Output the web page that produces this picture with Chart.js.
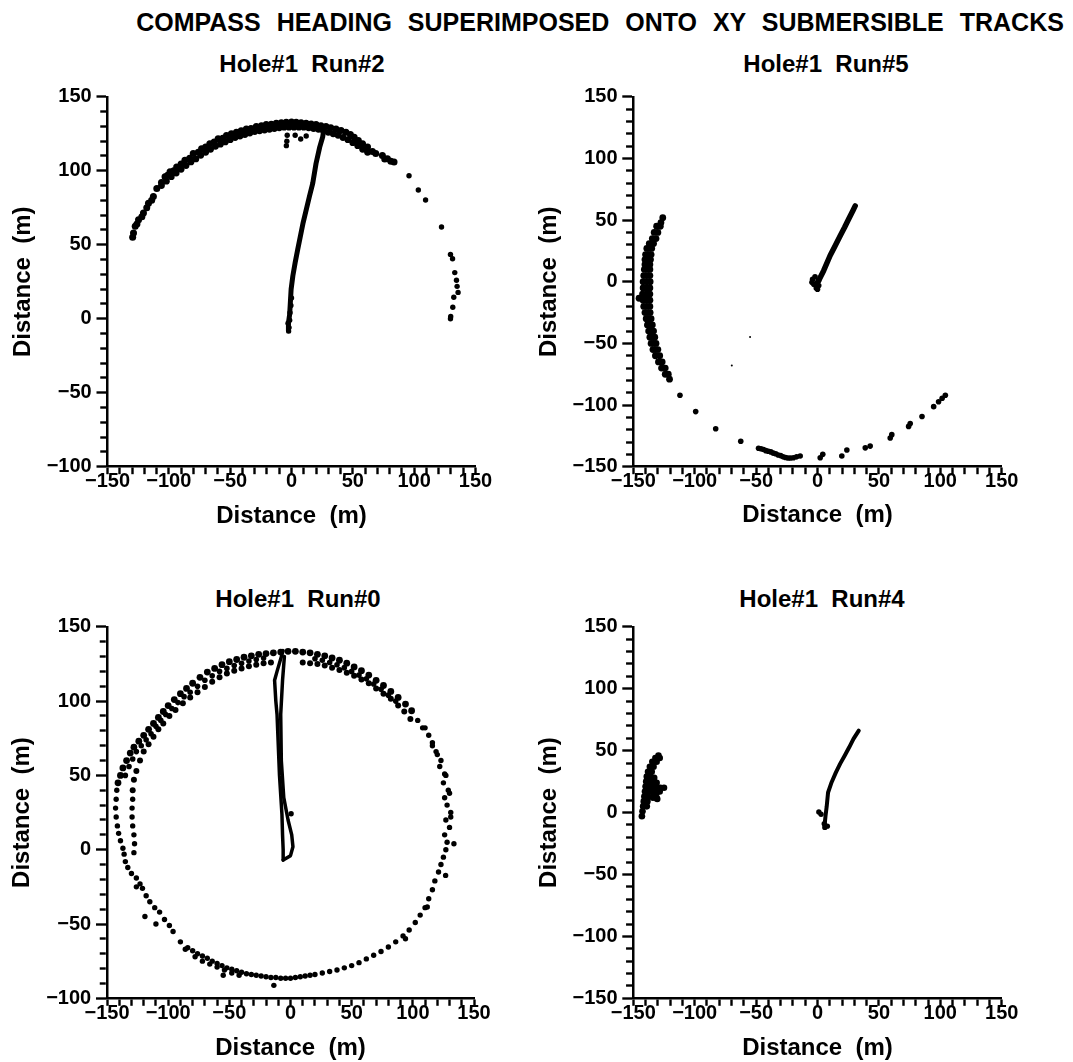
<!DOCTYPE html>
<html>
<head>
<meta charset="utf-8">
<script src="https://cdn.jsdelivr.net/npm/chart.js@4.4.1/dist/chart.umd.min.js"></script>
<style>
  html, body { margin: 0; padding: 0; background: #fff; overflow: hidden; }
  body { width: 1073px; height: 1062px; position: relative; font-family: 'Liberation Sans', Arial, sans-serif; color: #000; }
  .title { position: absolute; top: 10px; left: 600px; transform: translateX(-50%); font-size: 25px; font-weight: bold; line-height: 25px; word-spacing: 9px; white-space: nowrap; }
  .sub { position: absolute; font-size: 24px; font-weight: bold; line-height: 24px; white-space: pre; transform: translateX(-50%); }
  .panel { position: absolute; }
</style>
</head>
<body>
<div class="title">COMPASS HEADING SUPERIMPOSED ONTO XY SUBMERSIBLE TRACKS</div>
<div class="sub" style="left:302px;top:52px">Hole#1  Run#2</div>
<div class="sub" style="left:826px;top:52px">Hole#1  Run#5</div>
<div class="sub" style="left:298px;top:587px">Hole#1  Run#0</div>
<div class="sub" style="left:822px;top:587px">Hole#1  Run#4</div>

<div class="panel" style="left:0;top:80px;width:530px;height:470px"><canvas id="run2Chart"></canvas></div>
<div class="panel" style="left:520px;top:80px;width:553px;height:470px"><canvas id="run5Chart"></canvas></div>
<div class="panel" style="left:0;top:610px;width:530px;height:452px"><canvas id="run0Chart"></canvas></div>
<div class="panel" style="left:520px;top:610px;width:553px;height:452px"><canvas id="run4Chart"></canvas></div>

<script>
// axis ranges / ticks
const xRange = [-150, 150];
const yRangeLeft = [-100, 150];
const yRangeRight = [-150, 150];
const tickStep = 10;
const labelStep = 50;

// ---- Run#2 (top left) ----
const run2Arc = [
    [-129.5, 55], [-128.8, 58], [-127.4, 62.5], [-126, 64], [-124.7, 66.9], [-122, 69], [-120.7, 71.4],
    [-118, 75], [-116.6, 78.1], [-114, 80], [-112.6, 82.6], [-109.8, 88.1], [-106, 92], [-103.1, 95.9],
    [-101, 97], [-99, 99.3], [-96, 100], [-93.6, 102.6], [-90, 104.5], [-86.9, 107.1], [-83, 108.5],
    [-80.1, 111.6], [-76, 112.5], [-73.3, 114.9], [-70, 116], [-66.6, 118.3], [-63, 119.5], [-59.8, 121.6],
    [-56, 122], [-53, 123.8], [-49, 125], [-44.9, 126.1], [-41, 127], [-36.8, 128.3], [-33, 128.5],
    [-28.7, 129.9], [-24.5, 130.5], [-20.6, 131.2], [-16.5, 131.5], [-12.4, 132.1], [-8.3, 132.5],
    [-4.3, 132.8], [0, 133], [3.8, 132.8], [7.8, 132.5], [11.9, 132.1], [16, 131.7], [20, 131.2],
    [24, 130.5], [28.1, 129.9], [32, 129], [36.3, 128.3], [40.4, 127.2], [44.4, 126.1], [48, 124.5],
    [51.1, 122.7], [54.5, 120.5], [57.9, 118.3], [62, 116], [66, 113], [68.7, 111.6], [74.1, 110.4],
    [76, 108], [78.2, 108.2], [81, 106.5], [83.6, 106]
];
const run2ArcInner = [
    [-106, 90], [-102, 93], [-98, 96], [-94, 98.5], [-90, 101], [-86, 103.5], [-82, 106], [-78, 108],
    [-74, 110.5], [-70, 112.5], [-66, 114.5], [-62, 116.5], [-58, 118], [-54, 119.5], [-50, 121],
    [-46, 122.5], [-42, 123.5], [-38, 124.5], [-34, 125.5], [-30, 126.5], [-26, 127], [-22, 127.5],
    [-18, 128], [-14, 128.5], [-10, 129], [-6, 129.5], [-2, 129.5], [2, 129.5], [6, 129.5], [10, 129.5],
    [14, 129], [18, 128.5], [22, 128], [26, 127], [30, 126], [34, 125], [38, 124], [42, 122.5],
    [46, 121], [50, 119], [54, 117], [58, 114.5], [62, 112.5]
];
const run2Dots = [
    [-3.8, 120], [-3.5, 124], [-4.2, 117], [7.5, 121.5], [12, 123.5], [3, 124],
    [95.8, 96.6], [103.4, 87], [109.3, 80.3], [122.3, 62], [129.6, 43.5], [131.3, 40.5], [133.1, 31.2],
    [134.5, 26], [135, 21.9], [135.8, 17.8], [132.3, 14.5], [131.5, 7.8], [129.6, 0], [129.8, 1.5],
    [-2, -6], [-1.5, -1], [-1.2, 4], [-0.5, 9], [-2.8, -3], [0, 14]
];
const run2Track = [
    [-2.2, -8.5], [-2.5, -3], [-1.5, 3], [-1, 10], [-0.3, 20], [1.1, 29], [3, 38], [5.1, 46.9],
    [9.5, 65], [14.6, 82.6], [17.3, 91.5], [20, 104.9], [23, 116], [25.4, 122.8], [26, 126]
];

// ---- Run#5 (top right) ----
const run5Band = [
    [-126, 52], [-127.5, 48], [-131, 45], [-128, 45], [-133, 40], [-130, 40], [-134.5, 35], [-131.5, 35],
    [-137, 31], [-135, 31], [-133.5, 31], [-139, 27], [-137, 27], [-135, 27], [-140, 22], [-138, 22],
    [-135.5, 22], [-140.5, 18], [-138, 18], [-136, 18], [-140.5, 14], [-138.5, 14], [-136.5, 14],
    [-141, 10], [-138.5, 10], [-136.5, 10], [-141.5, 5], [-139, 5], [-136.5, 5], [-142, 0], [-139, 0],
    [-136.3, 0], [-142, -5], [-139, -5], [-136.5, -5], [-142.5, -10], [-139.5, -10], [-136.5, -10],
    [-142, -15], [-139, -15], [-136.5, -15], [-141.5, -20], [-139, -20], [-136.5, -20], [-140.5, -25],
    [-138.5, -25], [-136.3, -25], [-139.5, -30], [-137.5, -30], [-135.5, -30], [-138.5, -35],
    [-136.5, -35], [-134.5, -35], [-137.5, -40], [-135.5, -40], [-133.5, -40], [-136.5, -45],
    [-134.5, -45], [-132.5, -45], [-135.5, -50], [-133.5, -50], [-131.5, -50], [-134, -55], [-132, -55],
    [-130, -55], [-132, -60], [-128.5, -60], [-129.5, -65], [-126.5, -65], [-127, -70], [-124, -70],
    [-124, -75], [-121.5, -75], [-120.5, -79], [-145.3, -13.4]
];
const run5Dots = [
    [-112, -92], [-99.2, -105.3], [-82.9, -119.2], [-62.5, -129.3],
    [-48, -135], [-46, -135.5], [-44, -136], [-42, -137], [-40, -137.5], [-38, -138], [-36, -139],
    [-34, -139.5], [-32, -140.5], [-30, -141], [-28, -142], [-26, -142.5], [-24, -143], [-22, -143],
    [-19.6, -142.7], [-17, -142], [-14.1, -141.3],
    [2.2, -142.7], [4.3, -140], [19.8, -141.3], [23.9, -136.5], [38.9, -134.7], [42.9, -133.3],
    [59.2, -126.7], [60.5, -124], [74.2, -117.3], [75.5, -115], [85.1, -109.3], [94.6, -101.3],
    [98.6, -97.3], [101.5, -94.5], [104.1, -92],
    [-4, 2], [-3, -2], [-1, -5], [1, -3], [-2, 4], [1, 1], [-4.5, -0.5], [0, -6]
];
const run5Specks = [[-54.9, -44.8], [-69.8, -68]];
const run5Track = [
    [-1, -2], [2, 3], [5, 9], [10.3, 21.3], [14.5, 29.5], [18.5, 37.3], [22, 44], [25.3, 50.7],
    [29, 58], [30.7, 61.5]
];

// ---- Run#0 (bottom left) ----
const run0Outer = [
    [-141, 45], [-139, 50], [-137, 55], [-134, 60], [-131, 65], [-128, 69], [-124, 73], [-120, 77],
    [-116, 81], [-112, 85], [-108, 89], [-104, 93], [-100, 97], [-95, 101], [-90, 105], [-85, 108.5],
    [-80, 112], [-74, 116], [-68, 119.5], [-62, 122], [-56, 124.5], [-50, 126.5], [-44, 128],
    [-38, 129.5], [-32, 130.5], [-26, 131.5], [-20, 132], [-14, 132.5], [-8, 133], [-2, 133.5],
    [4, 133.5], [10, 133], [16, 132.5], [22, 131.5], [28, 130.5], [34, 129], [40, 127.5], [46, 125.5],
    [52, 123], [58, 120.5], [64, 117.5], [70, 114], [76, 110.5], [82, 106.5], [88, 102.5], [94, 98],
    [99, 93.5]
];
const run0Mid = [
    [-135, 50], [-132, 56], [-129, 61], [-126, 66], [-122, 70], [-118, 74], [-114, 78], [-110, 83],
    [-106, 87], [-102, 91], [-97, 95], [-92, 99], [-87, 103], [-82, 106], [-76, 110], [-70, 114],
    [-64, 117], [-58, 120], [-52, 122], [-46, 124], [-40, 125.5], [-34, 127], [-28, 128], [-22, 129],
    [20, 128.5], [26, 127.5], [32, 126], [38, 124.5], [44, 122.5], [50, 120], [56, 117.5], [62, 115],
    [68, 111.5], [74, 108], [80, 104], [86, 100]
];
const run0Inner = [
    [-129, 40], [-128, 47], [-126, 53], [-123, 60], [-120, 66], [-116, 71], [-112, 76], [-108, 81],
    [-104, 85], [-99, 90], [-94, 94], [-88, 98.5], [-82, 102.5], [-76, 106], [-70, 109.5], [-64, 113],
    [-58, 116], [-52, 118.5], [-46, 120.5], [-40, 122], [-34, 123.5], [-28, 124.5], [-22, 125.5],
    [-16, 126], [10, 126], [16, 125.5], [22, 125], [28, 124], [34, 122.5], [40, 121], [46, 119],
    [52, 117], [58, 114.5], [64, 112], [70, 108.5], [76, 105], [82, 101.5], [88, 97], [93, 93], [98, 88]
];
const run0Scatter = [
    [-142, 40], [-142.5, 34], [-143, 28], [-142.5, 22], [-141.5, 16], [-140.5, 11], [-139, 6], [-137, 1],
    [-136, -3], [-129, 34], [-129.5, 28], [-129.5, 22], [-129, 16], [-128, 10], [-127.5, 4], [-128, -2],
    [-135, -8], [-133, -12], [-130, -16], [-126, -19], [-123, -23], [-121, -26], [-118, -31], [-115, -35],
    [-111, -39], [-107, -42], [-103, -47], [-99, -51], [-126, -25], [-119, -45], [-110, -50], [-96, -55],
    [-90, -62], [-86, -67], [-84, -66],
    [-80, -68], [-76, -70], [-72, -71.5], [-68, -73], [-64, -75], [-60, -76.5], [-56, -78], [-52, -79.5],
    [-48, -80.5], [-44, -81.5], [-40, -82.5], [-36, -83.5], [-32, -84], [-28, -84.5], [-24, -85],
    [-20, -85.5], [-16, -86], [-12, -86], [-8, -86.5], [-4, -86.5], [0, -86.5], [4, -86], [8, -85.5],
    [12, -85], [16, -84.5], [20, -84], [26, -83], [32, -82], [38, -81], [44, -79.5], [50, -78],
    [-78, -72], [-72, -75], [-66, -77], [-60, -79], [-54, -81], [-48, -83], [-42, -84.5], [-55, -84.5],
    [-13.6, -91.3],
    [56, -76], [62, -73.5], [68, -71], [74, -68.5], [80, -65.5], [86, -62], [92, -58], [97, -54],
    [102, -49], [106, -44], [110, -39], [113, -33], [116, -27], [118, -21], [121, -15], [123, -10],
    [125, -5], [94, -59.9], [111.8, -38.6], [126.8, -17.3],
    [127, 0], [128, 5], [126, 10], [130, 15], [127, 20], [131, 25], [128, 30], [126, 35], [129, 40],
    [125, 45], [127, 50], [122, 56], [123, 60], [119, 66], [116, 72], [113, 77], [110, 82], [104, 87],
    [108, 82], [116, 70], [120, 64], [126, 51], [130, 38], [131, 22], [133.6, 4], [0.5, 24.2]
];
const run0TrackA = [
    [-6, 134], [-11, 120], [-13, 114], [-12, 100], [-11, 91], [-9, 50], [-7, 24], [-6.5, 10], [-6, 0], [-6, -7]
];
const run0TrackB = [
    [-5, 130], [-6.5, 114], [-8, 91], [-7.5, 60], [-5.5, 35], [-2, 20], [1, 10], [2, 2], [0, -4], [-6, -7]
];

// ---- Run#4 (bottom right) ----
const run4Blob = [
    [-143, -3], [-142.5, 1], [-142, 5], [-141.5, 9], [-141, 13], [-140.5, 17], [-140, 21], [-139.5, 25],
    [-139, 29], [-138, 33], [-136.5, 37], [-134.5, 41], [-132, 44], [-129.5, 46], [-128.5, 44],
    [-131, 41], [-133.5, 37], [-135, 33], [-136, 29], [-137, 25], [-137.5, 21], [-137.5, 17], [-138, 13],
    [-138.5, 9], [-139, 5], [-134, 12], [-131, 12], [-134, 16], [-131, 16], [-128.5, 17], [-134, 20],
    [-131, 20], [-128, 20], [-125, 20], [-134, 24], [-131, 24], [-133, 28], [-130.5, 11]
];
const run4Dots = [[6, -12], [8, -11], [5.5, -9], [1.1, 0.5], [2.9, -1.4]];
const run4Track = [
    [5.7, -10.8], [6.5, -3], [7.5, 5], [8.6, 16.2], [11.5, 24.5], [15, 32.4], [18.5, 39.5], [22.1, 45.9],
    [25.7, 52.5], [29.3, 59.5], [33.6, 66.2]
];

const FONT = "'Liberation Sans', Arial, sans-serif";
const toPts = arr => arr.map(([x, y]) => ({ x, y }));
const fmt = v => (v < 0 ? '\u2212' + Math.abs(v) : String(v));
const isMajor = ctx => ctx.tick && ctx.tick.value % labelStep === 0;

function dots(data, r) {
    return { data: toPts(data), pointRadius: r, pointBackgroundColor: '#000', pointBorderWidth: 0, pointHoverRadius: r };
}
function track(data, w) {
    return { data: toPts(data), showLine: true, borderColor: '#000', borderWidth: w, pointRadius: 0,
             borderJoinStyle: 'round', borderCapStyle: 'round' };
}

// box = container (page px), area = wanted chart area (page px)
function makeChart(id, box, area, yRange, yTitleX, xTitleY, datasets) {
    const ctx = document.getElementById(id).getContext('2d');
    const yWidth = area.l - box.left;
    const xHeight = box.top + box.h - area.b;
    new Chart(ctx, {
        type: 'scatter',
        data: { datasets: datasets },
        options: {
            responsive: true,
            maintainAspectRatio: false,
            animation: false,
            events: [],
            layout: { padding: { left: 0, top: area.t - box.top, right: box.left + box.w - area.r, bottom: 0 } },
            plugins: { legend: { display: false }, tooltip: { enabled: false } },
            scales: {
                x: {
                    type: 'linear', min: xRange[0], max: xRange[1],
                    afterFit: s => { s.height = xHeight; },
                    border: { display: true, color: '#000', width: 2.5 },
                    grid: {
                        drawOnChartArea: false, drawTicks: true, tickLength: 7.5, tickColor: '#000', tickWidth: 2.4
                    },
                    ticks: {
                        stepSize: tickStep, maxTicksLimit: 100, autoSkip: false, maxRotation: 0,
                        padding: -4.5, color: '#000',
                        font: { family: FONT, size: 20, weight: 'bold', lineHeight: 1.2 },
                        callback: v => (v % labelStep === 0 ? fmt(v) : '')
                    },
                    title: {
                        display: true, text: 'Distance  (m)', color: '#000',
                        font: { family: FONT, size: 24, weight: 'bold', lineHeight: 1.2 },
                        padding: { top: 0, bottom: box.top + box.h - xTitleY - 14.4 }
                    }
                },
                y: {
                    type: 'linear', min: yRange[0], max: yRange[1],
                    afterFit: s => { s.width = yWidth; },
                    border: { display: true, color: '#000', width: 2.5 },
                    grid: {
                        drawOnChartArea: false, drawTicks: true, tickLength: 11, tickColor: '#000', tickWidth: 2.4,
                        tickBorderDash: c => (isMajor(c) ? [] : [6, 20]),
                        tickBorderDashOffset: c => (isMajor(c) ? 0 : 22.25)
                    },
                    ticks: {
                        stepSize: tickStep, maxTicksLimit: 100, autoSkip: false,
                        padding: 4.8, color: '#000',
                        font: { family: FONT, size: 20, weight: 'bold', lineHeight: 1.2 },
                        callback: v => (v % labelStep === 0 ? fmt(v) : '')
                    },
                    title: {
                        display: true, text: 'Distance  (m)', color: '#000',
                        font: { family: FONT, size: 24, weight: 'bold', lineHeight: 1.2 },
                        padding: { top: yTitleX - box.left - 14.4, bottom: 0 }
                    }
                }
            }
        }
    });
}

makeChart('run2Chart', { left: 0, top: 80, w: 530, h: 470 }, { l: 107.5, t: 93.3, r: 475.5, b: 466.7 },
    yRangeLeft, 23, 516,
    [dots(run2Arc, 3.5), dots(run2ArcInner, 3.4), dots(run2Dots, 2.7), track(run2Track, 5)]);

makeChart('run5Chart', { left: 520, top: 80, w: 553, h: 470 }, { l: 633.3, t: 93.3, r: 1001.7, b: 466.7 },
    yRangeRight, 549, 515,
    [dots(run5Band, 3.4), dots(run5Dots, 2.8), dots(run5Specks, 1), track(run5Track, 5.5)]);

makeChart('run0Chart', { left: 0, top: 610, w: 530, h: 452 }, { l: 107, t: 626.7, r: 474, b: 998.3 },
    yRangeLeft, 22, 1048,
    [dots(run0Outer, 3.4), dots(run0Mid, 2.8), dots(run0Inner, 3), dots(run0Scatter, 2.7),
     track(run0TrackA, 3.5), track(run0TrackB, 3.5)]);

makeChart('run4Chart', { left: 520, top: 610, w: 553, h: 452 }, { l: 633.3, t: 626.7, r: 1001.7, b: 998.3 },
    yRangeRight, 549, 1048,
    [dots(run4Blob, 3.3), dots(run4Dots, 2.7), track(run4Track, 4)]);
</script>
</body>
</html>
